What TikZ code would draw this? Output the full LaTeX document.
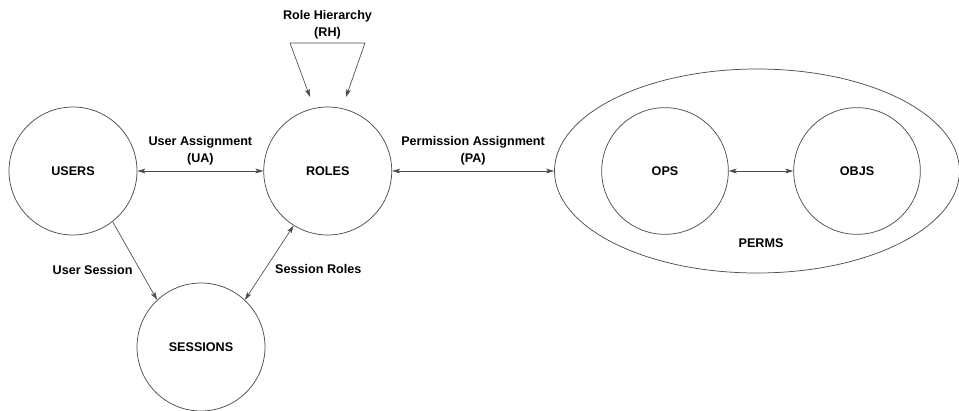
\documentclass[tikz,border=0pt]{standalone}
\usepackage{fontspec}
\setmainfont{Liberation Sans}
\usetikzlibrary{shapes.geometric, arrows.meta, positioning}

\begin{document}
\begin{tikzpicture}[
    x=0.75pt,
    y=-0.75pt,
    font=\fontsize{9.45}{12.4}\selectfont\bfseries,
    set/.style={
        circle,
        draw=black!70,
        line width=0.55pt,
        minimum size=96pt,
        inner sep=0pt
    },
    tag/.style={align=center, inner sep=0.5pt},
    arrow/.style={-{Stealth[length=6pt,width=3.6pt,inset=1.4pt]}, draw=black!70, line width=0.5pt},
    biarrow/.style={{Stealth[length=6pt,width=3.6pt,inset=1.4pt]}-{Stealth[length=6pt,width=3.6pt,inset=1.4pt]}, draw=black!70, line width=0.5pt}
]
\useasboundingbox (0,0) rectangle (959,410);

% the three basic sets
\node[set] (users) at (73,171) {USERS};
\node[set, right=94.5pt of users] (roles) {ROLES};
\node[set] (sessions) at (201,347) {SESSIONS};

% permissions = operations on objects
\node[ellipse, draw=black!70, line width=0.55pt, minimum width=303.75pt, minimum height=153pt, inner sep=0pt, right=121.5pt of roles] (perms) {};
\node[set, minimum size=95pt] (ops) at (665,171) {OPS};
\node[set, minimum size=95pt] (objs) at (857,171) {OBJS};
\node (permslabel) at (761,243) {PERMS};

% role hierarchy loop above ROLES
\node[tag] (rh) at (327.5,25) {Role Hierarchy\\(RH)};
\coordinate (rhl) at (290,43);
\coordinate (rhr) at (365,43);
\coordinate (rhtl) at (310,97);
\coordinate (rhtr) at (346,97);
\draw[biarrow] (rhtl) -- (rhl) -- (rhr) -- (rhtr);

% relations
\draw[biarrow] (users) -- node[tag, above=3.8pt] (ua) {User Assignment\\(UA)} (roles);
\draw[biarrow] (roles) -- node[tag, above=3.8pt] (pa) {Permission Assignment\\(PA)} (perms);
\draw[biarrow] (ops) -- (objs);
\draw[arrow] (users.-52) -- node[tag, pos=0.62, left=5pt] (us) {User Session} (sessions.133);
\draw[biarrow] (sessions.47) -- node[tag, pos=0.41, right=7pt] (sr) {Session Roles} (roles.238);

\end{tikzpicture}
\end{document}
